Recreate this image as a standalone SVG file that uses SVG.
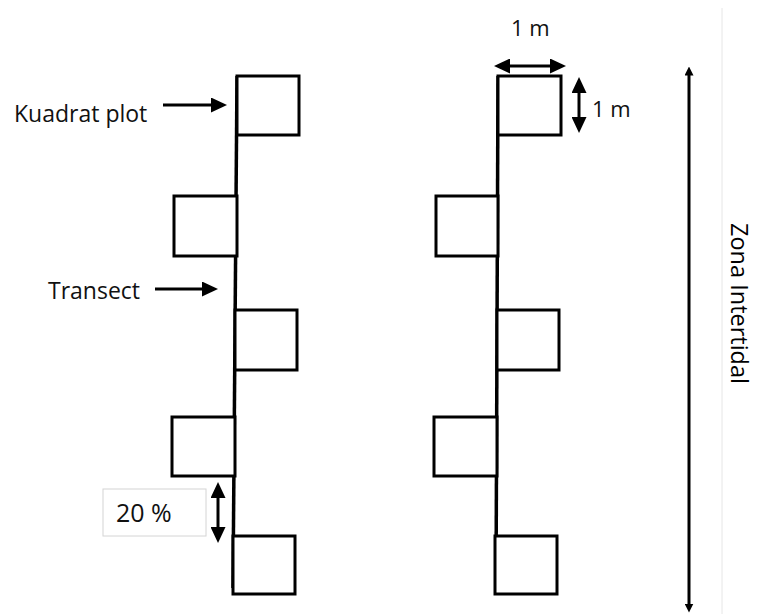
<svg xmlns="http://www.w3.org/2000/svg" width="757" height="614" viewBox="0 0 757 614">
  <style>
    .plot { fill: #fff; stroke: #000; stroke-width: 3; }
    .transect { fill: none; stroke: #000; stroke-width: 3.5; }
    .arrow { fill: none; stroke: #000; stroke-width: 3; }
    .label { font-family: "Open Sans", "Liberation Sans", sans-serif; fill: #111; }
  </style>
  <defs>
    <marker id="head" viewBox="0 0 16 15" refX="8" refY="7.5" markerWidth="16" markerHeight="15" markerUnits="userSpaceOnUse" orient="auto-start-reverse">
      <path d="M0,0 L16,7.5 L0,15 z" fill="#000"/>
    </marker>
    <marker id="head-small" viewBox="0 0 9 9" refX="4.5" refY="4.5" markerWidth="9" markerHeight="9" markerUnits="userSpaceOnUse" orient="auto-start-reverse">
      <path d="M0,0 L9,4.5 L0,9 z" fill="#000"/>
    </marker>
  </defs>

  <rect width="757" height="614" fill="#fff"/>
  <!-- page edge -->
  <line x1="722" y1="8" x2="722" y2="614" stroke="#e6e6e6" stroke-width="1"/>

  <!-- transect lines -->
  <g id="connectors">
    <line class="transect" x1="237" y1="76" x2="233" y2="588"/>
    <line class="transect" x1="498" y1="76" x2="496" y2="588"/>
    <!-- label pointers -->
    <line class="arrow" x1="163" y1="105" x2="219" y2="105" marker-end="url(#head)"/>
    <line class="arrow" x1="155" y1="289" x2="210" y2="289" marker-end="url(#head)"/>
    <!-- dimension arrows -->
    <line class="arrow" x1="502" y1="66" x2="558" y2="66" marker-start="url(#head)" marker-end="url(#head)"/>
    <line class="arrow" x1="579" y1="85" x2="579" y2="125" marker-start="url(#head)" marker-end="url(#head)"/>
    <line class="arrow" x1="218" y1="490" x2="218" y2="535" marker-start="url(#head)" marker-end="url(#head)"/>
    <line class="arrow" x1="689" y1="71" x2="689" y2="608" marker-start="url(#head-small)" marker-end="url(#head-small)"/>
  </g>

  <!-- left transect plots -->
  <g id="plot-l1"><rect class="plot" x="237" y="76" width="62" height="59"/></g>
  <g id="plot-l2"><rect class="plot" x="174" y="196" width="63" height="60"/></g>
  <g id="plot-l3"><rect class="plot" x="235" y="310" width="62" height="60"/></g>
  <g id="plot-l4"><rect class="plot" x="172" y="417" width="63" height="59"/></g>
  <g id="plot-l5"><rect class="plot" x="233" y="536" width="62" height="58"/></g>

  <!-- right transect plots -->
  <g id="plot-r1"><rect class="plot" x="498" y="76" width="63" height="59"/></g>
  <g id="plot-r2"><rect class="plot" x="436" y="196" width="62" height="60"/></g>
  <g id="plot-r3"><rect class="plot" x="497" y="310" width="62" height="60"/></g>
  <g id="plot-r4"><rect class="plot" x="434" y="417" width="63" height="59"/></g>
  <g id="plot-r5"><rect class="plot" x="495" y="536" width="62" height="58"/></g>

  <!-- labels -->
  <g id="label-kuadrat"><text class="label" x="14" y="122" font-size="23">Kuadrat plot</text></g>
  <g id="label-transect"><text class="label" x="48" y="299" font-size="23">Transect</text></g>
  <g id="label-width"><text class="label" x="511" y="36" font-size="22">1 m</text></g>
  <g id="label-height"><text class="label" x="592" y="117" font-size="22">1 m</text></g>
  <g id="label-spacing">
    <rect x="103" y="489" width="103" height="47" fill="#fff" stroke="#d4d4d4" stroke-width="1"/>
    <text class="label" x="116" y="522" font-size="25">20 %</text>
  </g>
  <g id="label-zone">
    <text class="label" transform="translate(731,223) rotate(90)" font-size="23.5" style="fill:#000">Zona Intertidal</text>
  </g>
</svg>
